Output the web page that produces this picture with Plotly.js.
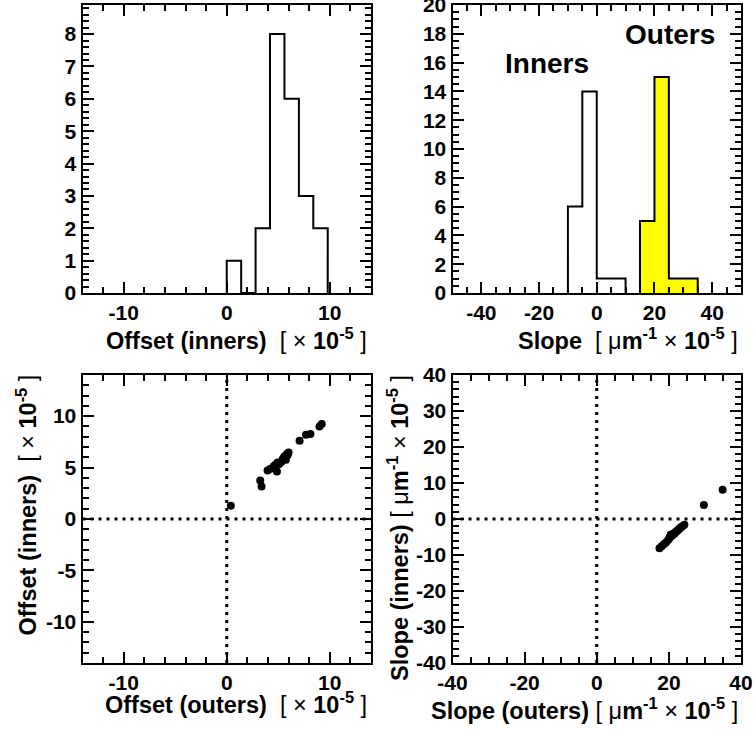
<!DOCTYPE html>
<html>
<head>
<meta charset="utf-8">
<script src="https://cdn.plot.ly/plotly-3.0.1.min.js"></script>
<style>html,body{margin:0;padding:0;background:#fff;}#chart{width:754px;height:730px;}</style>
</head>
<body>
<div id="chart"></div>
<script>
// ---- Data ----
// Histogram: Offset (inners), bin edges and counts
const offsetBinEdges = [0, 1.4, 2.8, 4.2, 5.6, 7.0, 8.4, 9.8];
const offsetInnerCounts = [1, 0, 2, 8, 6, 3, 2];
// Histogram: Slope (inners / outers)
const slopeInnerEdges = [-10, -5, 0, 5, 10];
const slopeInnerCounts = [6, 14, 1, 1];
const slopeOuterEdges = [15, 20, 25, 30, 35];
const slopeOuterCounts = [5, 15, 1, 1];
// Scatter: offset outers vs inners
const offsetOuters = [0.40, 3.25, 3.38, 3.96, 4.20, 4.54, 4.70, 4.87, 4.93, 5.10, 5.30, 5.42, 5.58, 5.74, 5.84, 5.90, 6.00, 7.07, 7.69, 8.12, 9.00, 9.22];
const offsetInners = [1.30, 3.74, 3.15, 4.71, 4.85, 5.10, 5.25, 4.62, 5.49, 5.35, 5.55, 5.82, 6.08, 5.76, 6.31, 6.20, 6.47, 7.61, 8.20, 8.26, 9.00, 9.24];
// Scatter: slope outers vs inners
const slopeOuters = [17.4, 18.0, 18.6, 19.2, 19.8, 20.1, 20.3, 20.5, 20.8, 21.0, 21.3, 21.5, 21.8, 22.1, 22.4, 22.7, 23.0, 23.4, 23.8, 24.3, 29.7, 34.9];
const slopeInners = [-8.1, -7.6, -7.0, -6.5, -5.8, -5.4, -4.9, -4.4, -4.7, -4.3, -4.0, -4.2, -3.7, -3.5, -3.2, -2.9, -2.6, -2.3, -2.0, -1.6, 3.9, 8.1];

// ---- Tick values (labels drawn with ASCII hyphen as in the reference) ----
const offsetTicks = [-10, 0, 10];
const countTicks = [0, 1, 2, 3, 4, 5, 6, 7, 8];
const slopeHistTicks = [-40, -20, 0, 20, 40];
const slopeCountTicks = [0, 2, 4, 6, 8, 10, 12, 14, 16, 18, 20];
const offsetYTicks = [-10, -5, 0, 5, 10];
const slopeXTicks = [-40, -20, 0, 20, 40];
const slopeYTicks = [-40, -30, -20, -10, 0, 10, 20, 30, 40];

function stepXY(edges, counts) {
  const x = [edges[0]], y = [0];
  for (let i = 0; i < counts.length; i++) { x.push(edges[i]); y.push(counts[i]); }
  x.push(edges[edges.length - 1]); y.push(0);
  return {x, y};
}

const W = 754, H = 730;
const px = v => v / W;
const py = v => 1 - v / H;

const FONT = 'Liberation Sans, Arial, Helvetica, sans-serif';
const tickFont = {family: FONT, size: 21, color: '#000', weight: 'bold'};

function axis(range, ticks, minorDtick, domain, anchor) {
  return {
    range: range, domain: domain, anchor: anchor,
    tickmode: 'array', tickvals: ticks, ticktext: ticks.map(String),
    ticks: 'inside', ticklen: 11, tickwidth: 2, tickcolor: '#000',
    minor: {tickmode: 'linear', dtick: minorDtick, ticks: 'inside', ticklen: 6},
    showline: true, linewidth: 2, linecolor: '#000', mirror: 'ticks',
    showgrid: false, zeroline: false,
    tickfont: tickFont, ticklabeloverflow: 'allow'
  };
}

const sIn = stepXY(slopeInnerEdges, slopeInnerCounts);
const sOut = stepXY(slopeOuterEdges, slopeOuterCounts);
const oIn = stepXY(offsetBinEdges, offsetInnerCounts);

const traces = [
  {type: 'scatter', mode: 'lines', x: oIn.x, y: oIn.y, xaxis: 'x', yaxis: 'y',
   line: {shape: 'hv', color: '#000', width: 2}, hoverinfo: 'skip'},
  {type: 'scatter', mode: 'lines', x: sIn.x, y: sIn.y, xaxis: 'x2', yaxis: 'y2',
   line: {shape: 'hv', color: '#000', width: 2}, hoverinfo: 'skip'},
  {type: 'scatter', mode: 'lines', x: sOut.x, y: sOut.y, xaxis: 'x2', yaxis: 'y2',
   line: {shape: 'hv', color: '#000', width: 2}, fill: 'tozeroy', fillcolor: '#ffff00', hoverinfo: 'skip'},
  {type: 'scatter', mode: 'markers', x: offsetOuters, y: offsetInners, xaxis: 'x3', yaxis: 'y3',
   marker: {color: '#000', size: 8, line: {width: 0}}},
  {type: 'scatter', mode: 'markers', x: slopeOuters, y: slopeInners, xaxis: 'x4', yaxis: 'y4',
   marker: {color: '#000', size: 8, line: {width: 0}}}
];

const dLeft = [px(82.5), px(371)];
const dRight = [px(452.5), px(741)];
const dTop = [py(293), py(5)];
const dBot = [py(663), py(375)];

const N = "<span style='font-weight:normal'>";
const titleFont = {family: FONT, size: 23.5, color: '#000', weight: 'bold'};
const labelFont = {family: FONT, size: 28, color: '#000', weight: 'bold'};

const dotLine = {color: '#000', width: 3, dash: '3px,5px'};

const layout = {
  width: W, height: H,
  margin: {l: 0, r: 0, t: 0, b: 0},
  paper_bgcolor: '#fff', plot_bgcolor: '#fff',
  showlegend: false,
  xaxis: axis([-14, 14], offsetTicks, 2, dLeft, 'y'),
  yaxis: axis([0, 8.9], countTicks, 0.2, dTop, 'x'),
  xaxis2: axis([-50, 50], slopeHistTicks, 5, dRight, 'y2'),
  yaxis2: axis([0, 20], slopeCountTicks, 0.5, dTop, 'x2'),
  xaxis3: axis([-14, 14], offsetTicks, 2, dLeft, 'y3'),
  yaxis3: axis([-14, 14], offsetYTicks, 1, dBot, 'x3'),
  xaxis4: axis([-40, 40], slopeXTicks, 5, dRight, 'y4'),
  yaxis4: axis([-40, 40], slopeYTicks, 2, dBot, 'x4'),
  shapes: [
    {type: 'line', xref: 'x3', yref: 'y3', x0: 0, x1: 0, y0: -14, y1: 14, line: dotLine, layer: 'below'},
    {type: 'line', xref: 'x3', yref: 'y3', x0: -14, x1: 14, y0: 0, y1: 0, line: dotLine, layer: 'below'},
    {type: 'line', xref: 'x4', yref: 'y4', x0: 0, x1: 0, y0: -40, y1: 40, line: dotLine, layer: 'below'},
    {type: 'line', xref: 'x4', yref: 'y4', x0: -40, x1: 40, y0: 0, y1: 0, line: dotLine, layer: 'below'}
  ],
  annotations: [
    {xref: 'paper', yref: 'paper', x: px(369), y: py(339), xanchor: 'right', yanchor: 'middle', showarrow: false,
     text: "Offset (inners)\u00a0\u00a0" + N + "[\u00a0×</span> 10<sup>-5</sup> " + N + "]</span>", font: titleFont},
    {xref: 'paper', yref: 'paper', x: px(740), y: py(339), xanchor: 'right', yanchor: 'middle', showarrow: false,
     text: "Slope\u00a0\u00a0" + N + "[\u00a0μ</span>m<sup>-1</sup> " + N + "×</span> 10<sup>-5</sup> " + N + "]</span>", font: titleFont},
    {xref: 'paper', yref: 'paper', x: px(369), y: py(703), xanchor: 'right', yanchor: 'middle', showarrow: false,
     text: "Offset (outers)\u00a0\u00a0" + N + "[\u00a0×</span> 10<sup>-5</sup> " + N + "]</span>", font: titleFont},
    {xref: 'paper', yref: 'paper', x: px(740), y: py(709), xanchor: 'right', yanchor: 'middle', showarrow: false,
     text: "Slope (outers) " + N + "[\u00a0μ</span>m<sup>-1</sup> " + N + "×</span> 10<sup>-5</sup> " + N + "]</span>", font: titleFont},
    {xref: 'paper', yref: 'paper', x: px(27), y: py(373), xanchor: 'center', yanchor: 'top', showarrow: false, textangle: -90,
     text: "Offset (inners)\u00a0\u00a0" + N + "[\u00a0×</span> 10<sup>-5</sup> " + N + "]</span>", font: titleFont},
    {xref: 'paper', yref: 'paper', x: px(398), y: py(373), xanchor: 'center', yanchor: 'top', showarrow: false, textangle: -90,
     text: "Slope (inners) " + N + "[\u00a0μ</span>m<sup>-1</sup> " + N + "×</span> 10<sup>-5</sup> " + N + "]</span>", font: titleFont},
    {xref: 'paper', yref: 'paper', x: px(547), y: py(63), xanchor: 'center', yanchor: 'middle', showarrow: false,
     text: 'Inners', font: labelFont},
    {xref: 'paper', yref: 'paper', x: px(670), y: py(35), xanchor: 'center', yanchor: 'middle', showarrow: false,
     text: 'Outers', font: labelFont}
  ]
};

Plotly.newPlot('chart', traces, layout, {staticPlot: true, displayModeBar: false});
</script>
</body>
</html>
